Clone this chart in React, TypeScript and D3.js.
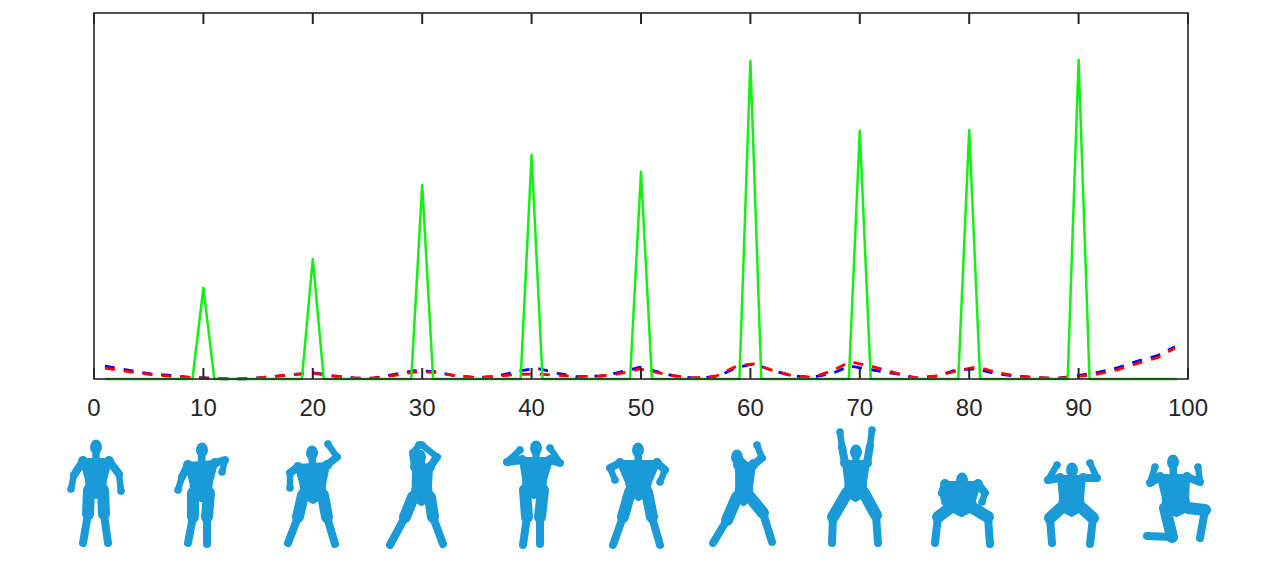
import * as d3 from 'd3'

// x positions 0..100, values as % of the axis height
const peakX = [10, 20, 30, 40, 50, 60, 70, 80, 90]
const peakVals = [24.9, 32.8, 53.0, 61.2, 56.6, 86.9, 67.8, 68.0, 87.2]
const greenStart = 1
const greenEnd = 99

const dashX = [1, 3.4, 5.2, 7, 8.8, 10.7, 12.5, 14.3, 16.2, 18.3, 20.1, 21.9, 23.8, 25.5, 27.5, 29.3, 31.2, 33, 35, 36.8, 38.7, 40.5, 42.4, 44.1, 46.3, 47.9, 49.9, 51.1, 52.9, 54.8, 56.9, 58.8, 60.3, 62.1, 63.9, 65.7, 67.5, 69.1, 71.2, 73.4, 75.2, 77.1, 78.9, 80.7, 82.5, 84.3, 86.2, 88.1, 89.9, 91.8, 93.6, 95.4, 97.2, 98.8]
const blueVals = [3.55, 2.27, 1.37, 1.0, 0.46, 0.19, 0.05, 0.08, 0.63, 1.28, 1.69, 0.82, 0.27, 0.22, 1.28, 2.27, 2.0, 0.9, 0.36, 0.74, 2.1, 2.92, 1.56, 0.63, 0.82, 1.72, 3.2, 2.27, 0.9, 0.27, 0.55, 3.2, 4.1, 2.27, 0.82, 0.46, 1.56, 3.55, 2.46, 1.37, 0.27, 0.82, 2.54, 2.73, 1.37, 0.82, 0.36, 0.19, 0.9, 1.83, 3.09, 4.92, 6.37, 8.83]
const redVals = [3.0, 1.91, 1.23, 0.74, 0.46, 0.19, 0.05, 0.08, 0.63, 1.28, 1.56, 0.82, 0.27, 0.22, 1.01, 1.91, 1.83, 0.9, 0.36, 0.74, 1.28, 1.37, 1.01, 0.63, 0.82, 1.37, 2.73, 2.0, 0.9, 0.27, 0.82, 3.63, 4.1, 2.27, 0.82, 0.46, 2.27, 4.73, 3.36, 1.56, 0.27, 0.82, 2.27, 3.28, 1.83, 0.82, 0.36, 0.19, 0.63, 1.37, 2.54, 4.29, 5.82, 8.39]

const xTicks = [0, 10, 20, 30, 40, 50, 60, 70, 80, 90, 100]

// body poses for the figure strip: [dx, y] per joint, dx relative to figure centre
type P = [number, number]
interface Pose { cx: number; head: P; shL: P; shR: P; elL: P; elR: P; haL: P; haR: P; hipL: P; hipR: P; knL: P; knR: P; ftL: P; ftR: P }
const poses: Pose[] = [
  { cx: 96, head: [0, 447], shL: [-13, 461], shR: [13, 461], elL: [-22, 475], elR: [23, 474], haL: [-25, 489], haR: [25, 491], hipL: [-7, 490], hipR: [7, 490], knL: [-8, 514], knR: [8, 514], ftL: [-13, 543], ftR: [12, 543] },
  { cx: 201, head: [1, 450], shL: [-13, 465], shR: [14, 463], elL: [-19, 477], elR: [24, 460], haL: [-23, 490], haR: [21, 472], hipL: [-8, 493], hipR: [8, 493], knL: [-8, 517], knR: [6, 517], ftL: [-13, 543], ftR: [6, 544] },
  { cx: 312, head: [0, 453], shL: [-14, 467], shR: [15, 465], elL: [-22, 473], elR: [25, 457], haL: [-22, 488], haR: [16, 444], hipL: [-9, 495], hipR: [11, 495], knL: [-14, 517], knR: [15, 517], ftL: [-24, 543], ftR: [23, 544] },
  { cx: 422, head: [-2, 457], shL: [-7, 467], shR: [8, 467], elL: [-9, 453], elR: [15, 457], haL: [-3, 445], haR: [0, 445], hipL: [-9, 497], hipR: [8, 497], knL: [-17, 517], knR: [11, 517], ftL: [-32, 545], ftR: [21, 544] },
  { cx: 535, head: [1, 448], shL: [-13, 460], shR: [15, 460], elL: [-28, 462], elR: [25, 463], haL: [-15, 450], haR: [15, 448], hipL: [-10, 490], hipR: [8, 490], knL: [-8, 517], knR: [5, 517], ftL: [-12, 545], ftR: [5, 544] },
  { cx: 638, head: [0, 450], shL: [-18, 463], shR: [19, 463], elL: [-28, 468], elR: [27, 470], haL: [-23, 480], haR: [22, 482], hipL: [-8, 492], hipR: [9, 492], knL: [-15, 517], knR: [14, 517], ftL: [-25, 545], ftR: [22, 545] },
  { cx: 745, head: [-8, 457], shL: [-7, 465], shR: [8, 465], elL: [5, 477], elR: [17, 458], haL: [8, 463], haR: [12, 445], hipL: [-8, 497], hipR: [5, 497], knL: [-18, 520], knR: [18, 513], ftL: [-32, 543], ftR: [27, 542] },
  { cx: 856, head: [0, 452], shL: [-11, 463], shR: [11, 463], elL: [-14, 447], elR: [14, 446], haL: [-16, 432], haR: [16, 430], hipL: [-9, 493], hipR: [8, 493], knL: [-23, 517], knR: [20, 515], ftL: [-24, 543], ftR: [22, 543] },
  { cx: 962, head: [0, 480], shL: [-17, 484], shR: [16, 484], elL: [-20, 493], elR: [23, 493], haL: [-17, 502], haR: [20, 502], hipL: [-12, 508], hipR: [11, 508], knL: [-24, 517], knR: [26, 517], ftL: [-27, 543], ftR: [28, 544] },
  { cx: 1072, head: [0, 470], shL: [-12, 478], shR: [11, 478], elL: [-24, 480], elR: [25, 478], haL: [-15, 465], haR: [18, 463], hipL: [-11, 508], hipR: [10, 508], knL: [-22, 518], knR: [21, 518], ftL: [-20, 543], ftR: [18, 544] },
  { cx: 1175, head: [-2, 462], shL: [-15, 477], shR: [12, 477], elL: [-25, 483], elR: [25, 482], haL: [-20, 467], haR: [23, 467], hipL: [-10, 508], hipR: [13, 508], knL: [-3, 537], knR: [30, 510], ftL: [-28, 536], ftR: [25, 538] },
]

const W = 1276
const H = 561
const margin = { left: 94, right: 88, top: 13, bottom: 182 }
const AXIS = '#262626'
const BODY = '#1b9ad8'

function Figure({ p }: { p: Pose }) {
  const pt = (j: P): [number, number] => [p.cx + j[0], j[1]]
  const seg = (a: [number, number], b: [number, number], w: number) => (
    <line x1={a[0]} y1={a[1]} x2={b[0]} y2={b[1]} stroke={BODY} strokeWidth={w} strokeLinecap="round" />
  )
  const limb = (a: P, b: P, w: number) => seg(pt(a), pt(b), w)
  const sL = pt(p.shL), sR = pt(p.shR), hL = pt(p.hipL), hR = pt(p.hipR)
  const mid = (a: [number, number], b: [number, number], t: number): [number, number] => [a[0] + (b[0] - a[0]) * t, a[1] + (b[1] - a[1]) * t]
  const c = mid(mid(sL, sR, 0.5), mid(hL, hR, 0.5), 0.65)
  // waist a little narrower than chest
  const wL = mid(mid(sL, hL, 0.65), c, 0.12)
  const wR = mid(mid(sR, hR, 0.65), c, 0.12)
  const hc = mid(hL, hR, 0.5)
  const crotch: [number, number] = [hc[0], hc[1] + 6]
  const torso = [sL, sR, wR, hR, crotch, hL, wL]
  const neck = mid(sL, sR, 0.5)
  const head = pt(p.head)
  return (
    <g>
      <polygon points={torso.map(d => d.join(',')).join(' ')} fill={BODY} stroke={BODY} strokeWidth={6} strokeLinejoin="round" />
      {seg(head, neck, 7.5)}
      {limb(p.shL, p.elL, 8)}
      {limb(p.elL, p.haL, 6.5)}
      {limb(p.shR, p.elR, 8)}
      {limb(p.elR, p.haR, 6.5)}
      {limb(p.hipL, p.knL, 12)}
      {limb(p.knL, p.ftL, 8)}
      {limb(p.hipR, p.knR, 12)}
      {limb(p.knR, p.ftR, 8)}
      <circle cx={sL[0]} cy={sL[1]} r={5} fill={BODY} />
      <circle cx={sR[0]} cy={sR[1]} r={5} fill={BODY} />
      <circle cx={pt(p.haL)[0]} cy={pt(p.haL)[1]} r={3.8} fill={BODY} />
      <circle cx={pt(p.haR)[0]} cy={pt(p.haR)[1]} r={3.8} fill={BODY} />
      <ellipse cx={head[0]} cy={head[1]} rx={6} ry={7.5} fill={BODY} />
    </g>
  )
}

export default function App() {
  const x = d3.scaleLinear().domain([0, 100]).range([margin.left, W - margin.right])
  const y = d3.scaleLinear().domain([0, 100]).range([H - margin.bottom, margin.top])

  const greenPts: [number, number][] = [[greenStart, 0]]
  peakX.forEach((px, i) => {
    greenPts.push([px - 1, 0], [px, peakVals[i]], [px + 1, 0])
  })
  greenPts.push([greenEnd, 0])

  const line = d3.line<[number, number]>().x(d => x(d[0])).y(d => y(d[1]))
  const bluePts = dashX.map((d, i) => [d, blueVals[i]] as [number, number])
  const redPts = dashX.map((d, i) => [d, redVals[i]] as [number, number])

  const x0 = x(0), x1 = x(100), y0 = y(0), y1 = y(100)

  return (
    <svg width={W} height={H} style={{ position: 'absolute', left: 0, top: 0, background: '#fff' }}
      fontFamily="'Liberation Sans', Arial, sans-serif">
      <rect width={W} height={H} fill="#fff" />
      <path d={line(bluePts) ?? ''} fill="none" stroke="#0000ff" strokeWidth={2.8} strokeDasharray="10 9" />
      <path d={line(redPts) ?? ''} fill="none" stroke="#ff0000" strokeWidth={2.8} strokeDasharray="10 9" />
      <path d={line(greenPts) ?? ''} fill="none" stroke="#14f014" strokeWidth={2.5} strokeLinejoin="round" />
      {/* axes box */}
      <rect x={x0} y={y1} width={x1 - x0} height={y0 - y1} fill="none" stroke={AXIS} strokeWidth={1.6} />
      {xTicks.map(t => (
        <g key={t}>
          <line x1={x(t)} x2={x(t)} y1={y0} y2={y0 - 11} stroke={AXIS} strokeWidth={2} />
          <line x1={x(t)} x2={x(t)} y1={y1} y2={y1 + 11} stroke={AXIS} strokeWidth={2} />
          <text x={x(t)} y={y0 + 37} textAnchor="middle" fontSize={24} fill={AXIS}>{t}</text>
        </g>
      ))}
      {poses.map((p, i) => <Figure key={i} p={p} />)}
    </svg>
  )
}
